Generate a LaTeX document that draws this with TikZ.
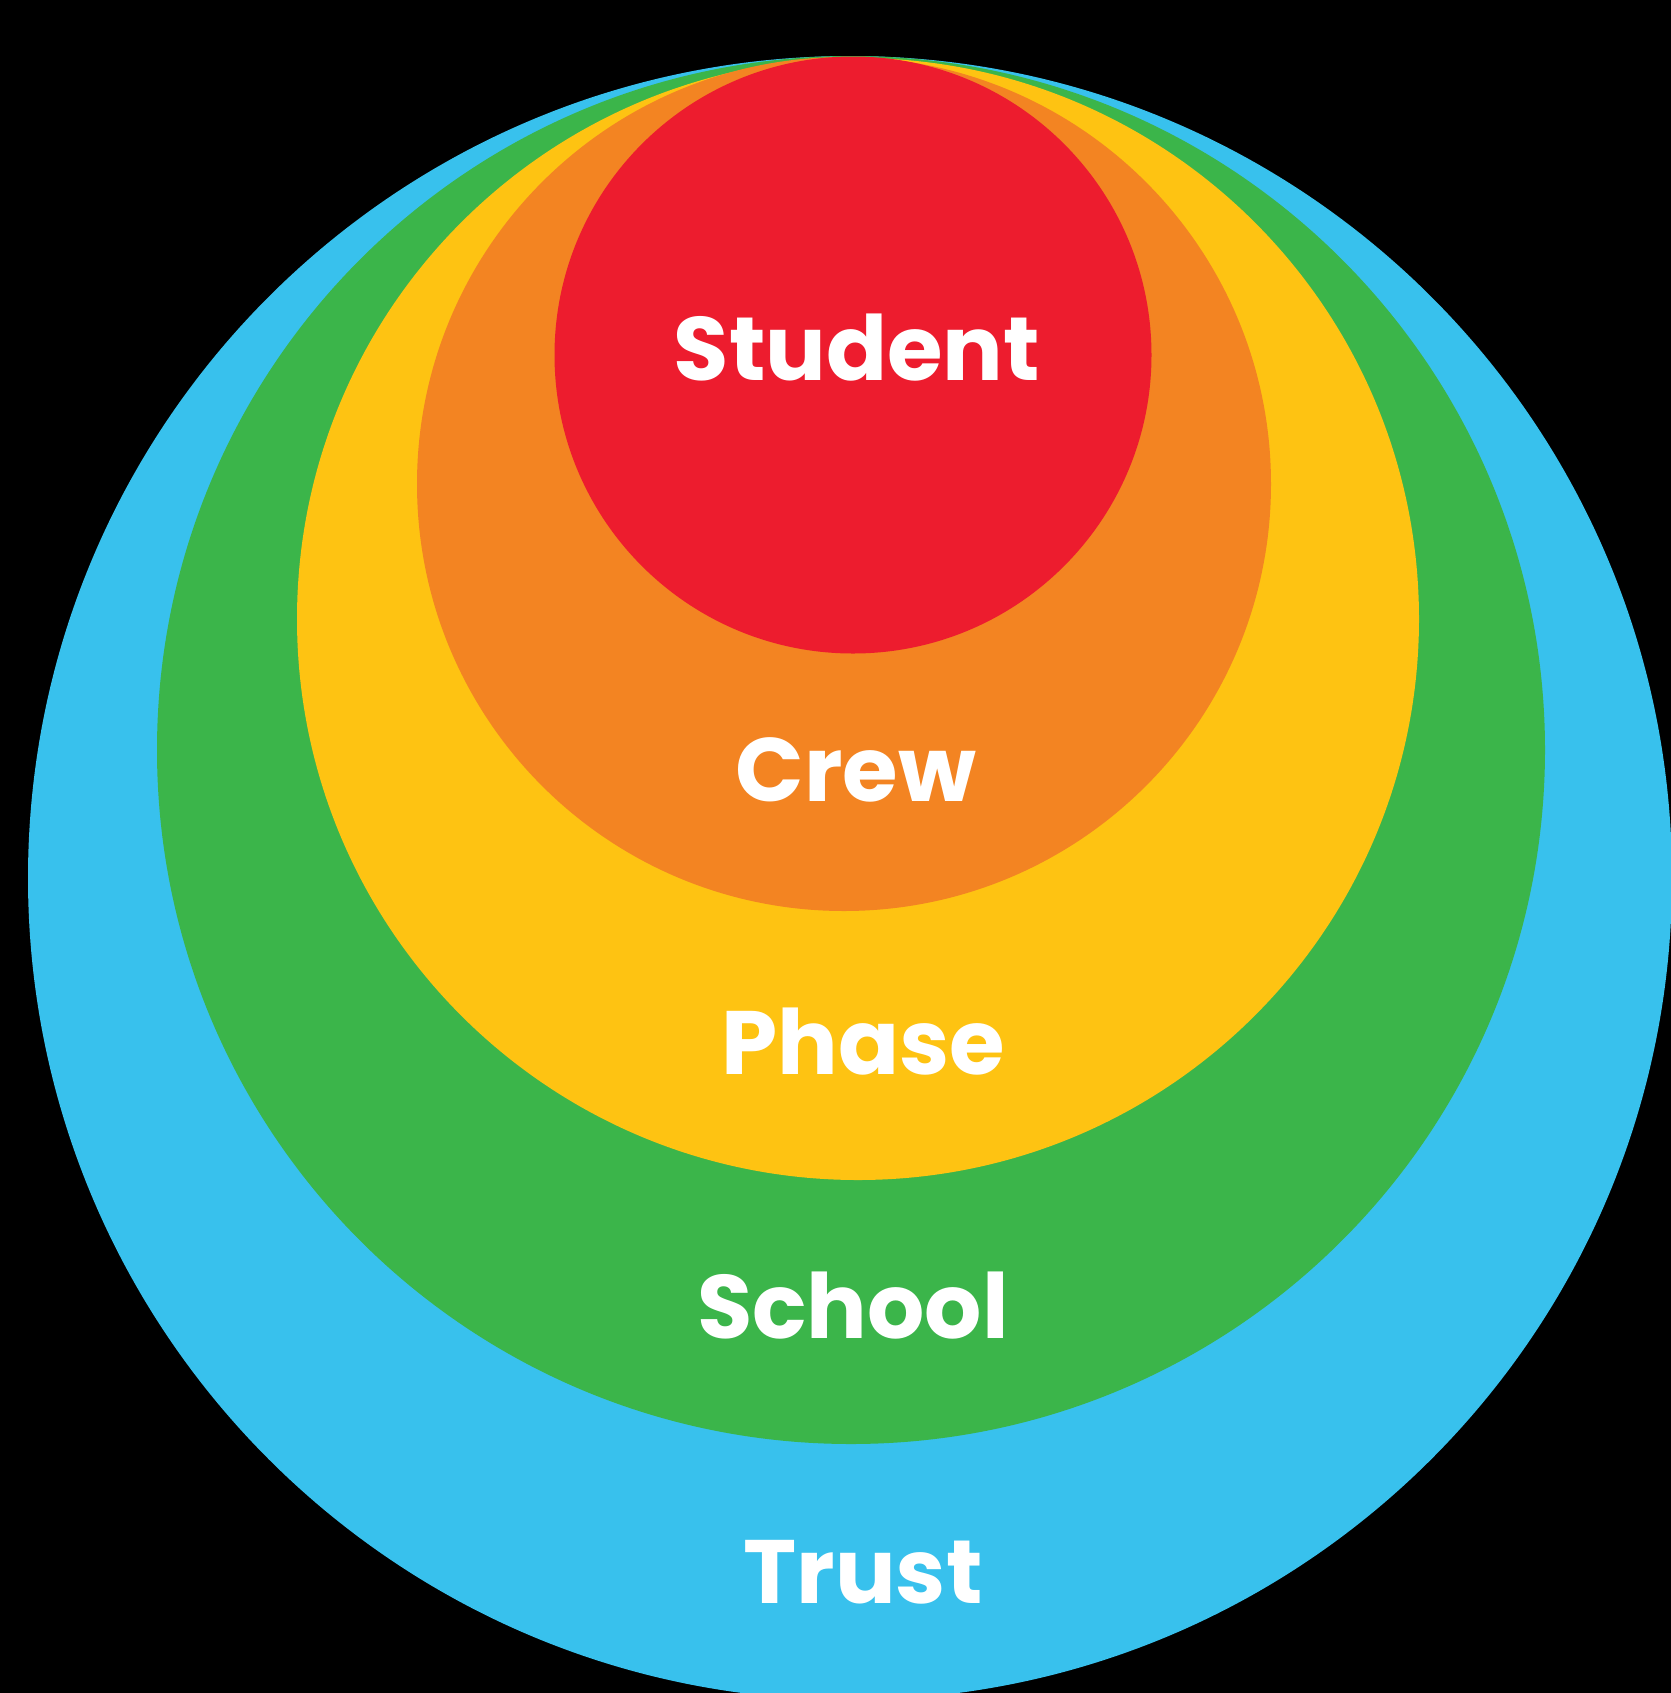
\documentclass[tikz,border=0pt]{standalone}
\usepackage{fontspec}
\setmainfont{Poppins}
\definecolor{trustblue}{HTML}{38C1ED}
\definecolor{schoolgreen}{HTML}{3BB54A}
\definecolor{phaseyellow}{HTML}{FEC312}
\definecolor{creworange}{HTML}{F38422}
\definecolor{studentred}{HTML}{ED1C2E}
\begin{document}
\begin{tikzpicture}[x=0.5pt,y=-0.5pt,
  ring/.style={draw=none},
  lbl/.style={text=white,anchor=base,inner sep=0pt,font=\fontsize{45}{54}\selectfont\bfseries}]
  % canvas
  \fill[black] (0,0) rectangle (1671,1693);
  \useasboundingbox (0,0) rectangle (1671,1693);
  \begin{scope}
    \clip (0,0) rectangle (1671,1693);
    % nested circles, all touching near the top
    \fill[trustblue]   (850,878) circle[radius=822];
    \fill[schoolgreen] (851,750) circle[radius=694];
    \fill[phaseyellow] (858,619) circle[radius=561];
    \fill[creworange]  (844,484) circle[radius=427];
    \fill[studentred]  (853,355) circle[radius=298.5];
  \end{scope}
  % labels
  \node[lbl] (student) at (857,380) {Student};
  \node[lbl] (crew)    at (856,801) {Crew};
  \node[lbl] (phase)   at (863,1074) {Phase};
  \node[lbl] (school)  at (853,1338) {School};
  \node[lbl] (trust)   at (863,1603) {Trust};
\end{tikzpicture}
\end{document}
